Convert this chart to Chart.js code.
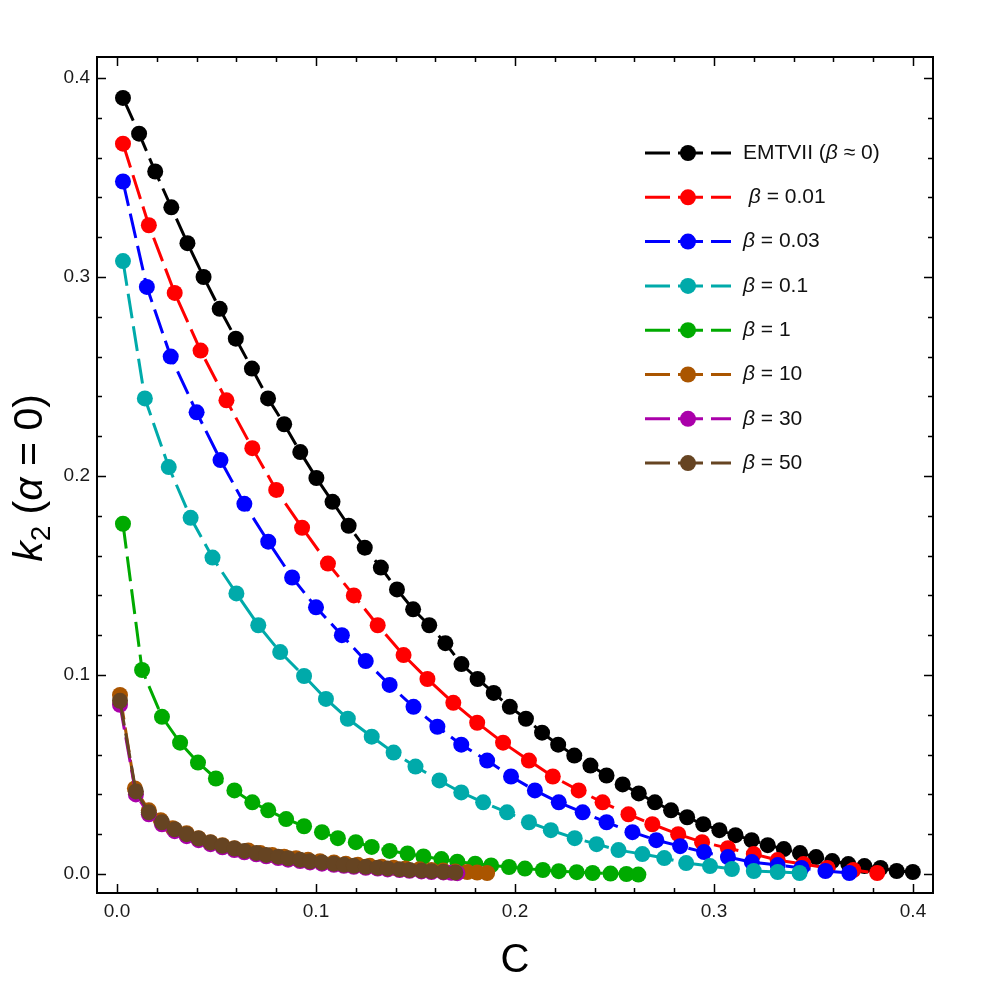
<!DOCTYPE html>
<html lang="en">
  <head>
    <meta charset="UTF-8" />
    <script src="https://cdn.jsdelivr.net/npm/chart.js@4.4.0/dist/chart.umd.min.js"></script>
    <style>
      body { margin: 0; background: #fff; }
      #chart { display: block; }
    </style>
    <title>k2 vs C</title>
  </head>
  <body>
    <canvas id="chart" width="997" height="985"></canvas>
    <script>
      // values: compactness C and Love number k2 per beta
      const cEMT = [0.003,0.0111,0.0192,0.0273,0.0354,0.0435,0.0516,0.0597,0.0678,0.0759,0.084,0.0921,0.1002,0.1083,0.1164,0.1245,0.1326,0.1407,0.1488,0.1569,0.165,0.1731,0.1812,0.1893,0.1974,0.2055,0.2136,0.2217,0.2298,0.2379,0.246,0.2541,0.2622,0.2703,0.2784,0.2865,0.2946,0.3027,0.3108,0.3189,0.327,0.3351,0.3432,0.3513,0.3594,0.3675,0.3756,0.3837,0.3918,0.3999];
      const kEMT = [0.390,0.372,0.353,0.335,0.317,0.300,0.284,0.269,0.254,0.239,0.226,0.212,0.199,0.187,0.175,0.164,0.154,0.143,0.133,0.125,0.116,0.1055,0.098,0.091,0.084,0.078,0.071,0.065,0.0595,0.0545,0.0495,0.045,0.0405,0.036,0.032,0.0285,0.025,0.022,0.0195,0.017,0.0145,0.0125,0.0105,0.0085,0.0065,0.005,0.004,0.003,0.0015,0.001];

      const cB001 = [0.003,0.016,0.029,0.042,0.055,0.068,0.080,0.093,0.106,0.119,0.131,0.144,0.156,0.169,0.181,0.194,0.207,0.219,0.232,0.244,0.257,0.269,0.282,0.294,0.307,0.320,0.332,0.345,0.357,0.370,0.382];
      const kB001 = [0.367,0.326,0.292,0.263,0.238,0.214,0.193,0.174,0.156,0.140,0.125,0.110,0.098,0.086,0.076,0.066,0.057,0.049,0.042,0.036,0.030,0.025,0.020,0.016,0.013,0.010,0.007,0.005,0.003,0.002,0.0005];

      const cB003 = [0.003,0.015,0.027,0.040,0.052,0.064,0.076,0.088,0.100,0.113,0.125,0.137,0.149,0.161,0.173,0.186,0.198,0.210,0.222,0.234,0.246,0.259,0.271,0.283,0.295,0.307,0.319,0.332,0.344,0.356,0.368];
      const kB003 = [0.348,0.295,0.260,0.232,0.208,0.186,0.167,0.149,0.134,0.120,0.107,0.095,0.084,0.074,0.065,0.057,0.049,0.042,0.036,0.031,0.026,0.021,0.017,0.014,0.011,0.0085,0.006,0.0045,0.003,0.0015,0.0005];

      const cB01 = [0.003,0.014,0.026,0.037,0.048,0.060,0.071,0.082,0.094,0.105,0.116,0.128,0.139,0.150,0.162,0.173,0.184,0.196,0.207,0.218,0.230,0.241,0.252,0.264,0.275,0.286,0.298,0.309,0.320,0.332,0.343];
      const kB01 = [0.308,0.239,0.2045,0.179,0.159,0.141,0.125,0.1115,0.0995,0.088,0.078,0.069,0.061,0.054,0.047,0.041,0.036,0.031,0.026,0.022,0.018,0.015,0.012,0.010,0.008,0.0055,0.004,0.0025,0.0015,0.001,0.0005];

      const cB1 = [0.003,0.0126,0.0226,0.0317,0.0407,0.0497,0.059,0.068,0.076,0.085,0.094,0.103,0.111,0.120,0.128,0.137,0.146,0.154,0.163,0.171,0.180,0.188,0.197,0.205,0.214,0.222,0.231,0.239,0.248,0.256,0.262];
      const kB1 = [0.176,0.1025,0.079,0.066,0.056,0.048,0.042,0.036,0.032,0.0276,0.024,0.021,0.018,0.016,0.0136,0.0116,0.0103,0.0088,0.0075,0.0062,0.0052,0.0043,0.0035,0.0027,0.002,0.0014,0.0009,0.0005,0.0002,0.0,-0.0003];

      const cB10 = [0.0015,0.009,0.016,0.022,0.028,0.035,0.041,0.047,0.053,0.059,0.066,0.072,0.078,0.084,0.090,0.096,0.102,0.109,0.115,0.121,0.127,0.133,0.139,0.145,0.152,0.158,0.164,0.170,0.176,0.181,0.186];
      const kB10 = [0.090,0.043,0.032,0.027,0.023,0.0205,0.018,0.016,0.0145,0.013,0.0118,0.0106,0.0096,0.0087,0.0079,0.0071,0.0064,0.0058,0.0052,0.0046,0.0041,0.0036,0.0032,0.0028,0.0024,0.002,0.0017,0.0013,0.001,0.0007,0.0005];

      const cB30 = [0.0015,0.0095,0.016,0.0226,0.029,0.035,0.041,0.047,0.053,0.059,0.064,0.070,0.075,0.081,0.086,0.092,0.097,0.103,0.109,0.114,0.119,0.125,0.131,0.136,0.142,0.147,0.153,0.158,0.164,0.168,0.171];
      const kB30 = [0.085,0.040,0.030,0.025,0.0215,0.019,0.017,0.015,0.0134,0.012,0.0109,0.0099,0.0089,0.008,0.0072,0.0065,0.0058,0.0052,0.0046,0.0041,0.0036,0.0031,0.0027,0.0023,0.002,0.0016,0.0013,0.001,0.0008,0.0006,0.0004];

      const cB50 = [0.0015,0.0095,0.016,0.0226,0.029,0.035,0.041,0.047,0.053,0.059,0.064,0.070,0.075,0.081,0.086,0.092,0.097,0.103,0.109,0.114,0.119,0.125,0.131,0.136,0.142,0.147,0.153,0.158,0.164,0.170];
      const kB50 = [0.087,0.0415,0.031,0.026,0.0225,0.020,0.0178,0.0158,0.0142,0.0128,0.0116,0.0106,0.0096,0.0087,0.0079,0.0071,0.0064,0.0058,0.0052,0.0046,0.0041,0.0036,0.0032,0.0028,0.0024,0.002,0.0017,0.0014,0.0011,0.0008];

      const seriesLabels = ["EMTVII (β ≈ 0)", " β = 0.01", "β = 0.03", "β = 0.1", "β = 1", "β = 10", "β = 30", "β = 50"];
      const seriesColors = ["#000000", "#ff0000", "#0000ff", "#00aaaa", "#00aa00", "#aa5500", "#aa00aa", "#664422"];
      const xTicks = [0.0, 0.1, 0.2, 0.3, 0.4];
      const yTicks = [0.0, 0.1, 0.2, 0.3, 0.4];

      const cols = [cEMT, cB001, cB003, cB01, cB1, cB10, cB30, cB50];
      const ks = [kEMT, kB001, kB003, kB01, kB1, kB10, kB30, kB50];

      const FONT = "'Liberation Sans', Arial, sans-serif";
      const isMajor = (v, list) => list.some((t) => Math.abs(t - v) < 1e-6);

      const datasets = seriesLabels.map((label, i) => ({
        label,
        data: cols[i].map((c, j) => ({ x: c, y: ks[i][j] })),
        borderColor: seriesColors[i],
        backgroundColor: seriesColors[i],
        pointBackgroundColor: seriesColors[i],
        pointBorderWidth: 0,
        pointRadius: 8,
        borderWidth: 3,
        borderDash: [25, 8],
        showLine: true,
        order: seriesLabels.length - i,
      }));

      // frame, inward ticks, y title and legend
      const decor = {
        id: "decor",
        afterDraw(chart) {
          const ctx = chart.ctx;
          const a = chart.chartArea;
          const xs = chart.scales.x;
          const ys = chart.scales.y;
          ctx.save();
          ctx.strokeStyle = "#000";
          ctx.lineWidth = 2;
          ctx.strokeRect(a.left, a.top, a.right - a.left, a.bottom - a.top);
          ctx.lineWidth = 1.5;
          ctx.beginPath();
          xs.ticks.forEach((t) => {
            const p = Math.round(xs.getPixelForValue(t.value)) + 0.5;
            const len = isMajor(t.value, xTicks) ? 9 : 5;
            ctx.moveTo(p, a.bottom); ctx.lineTo(p, a.bottom - len);
            ctx.moveTo(p, a.top); ctx.lineTo(p, a.top + len);
          });
          ys.ticks.forEach((t) => {
            const p = Math.round(ys.getPixelForValue(t.value)) + 0.5;
            const len = isMajor(t.value, yTicks) ? 9 : 5;
            ctx.moveTo(a.left, p); ctx.lineTo(a.left + len, p);
            ctx.moveTo(a.right, p); ctx.lineTo(a.right - len, p);
          });
          ctx.stroke();

          // y axis title: k2 (alpha = 0)
          ctx.fillStyle = "#000";
          ctx.translate(29, 478);
          ctx.rotate(-Math.PI / 2);
          const parts = [
            { t: "k", f: "italic 41px " + FONT, dy: 0 },
            { t: "2", f: "28px " + FONT, dy: 8 },
            { t: " (", f: "41px " + FONT, dy: 0 },
            { t: "α", f: "italic 41px " + FONT, dy: 0 },
            { t: " = 0)", f: "41px " + FONT, dy: 0 },
          ];
          let w = 0;
          parts.forEach((p) => { ctx.font = p.f; w += ctx.measureText(p.t).width; });
          let x = -w / 2;
          ctx.textBaseline = "alphabetic";
          parts.forEach((p) => {
            ctx.font = p.f;
            ctx.fillText(p.t, x, 13 + p.dy);
            x += ctx.measureText(p.t).width;
          });
          ctx.setTransform(1, 0, 0, 1, 0, 0);

          // legend
          ctx.textBaseline = "middle";
          seriesLabels.forEach((label, i) => {
            const y = 153 + i * 44.3;
            ctx.strokeStyle = seriesColors[i];
            ctx.lineWidth = 3;
            ctx.setLineDash([25, 8]);
            ctx.beginPath();
            ctx.moveTo(645, y); ctx.lineTo(731, y);
            ctx.stroke();
            ctx.setLineDash([]);
            ctx.fillStyle = seriesColors[i];
            ctx.beginPath();
            ctx.arc(688, y, 8, 0, Math.PI * 2);
            ctx.fill();
            ctx.fillStyle = "#111";
            let tx = 743;
            for (const ch of label) {
              ctx.font = (ch === "β" ? "italic " : "") + "21px " + FONT;
              ctx.fillText(ch, tx, y);
              tx += ctx.measureText(ch).width;
            }
          });
          ctx.restore();
        },
      };

      const tickLabel = (list) => (v) => (isMajor(v, list) ? v.toFixed(1) : "");

      const config = {
        type: "scatter",
        data: { datasets },
        options: {
          responsive: false,
          animation: false,
          devicePixelRatio: 1,
          layout: { padding: { top: 57, right: 64, bottom: 0, left: 0 } },
          elements: { line: { tension: 0 } },
          plugins: { legend: { display: false }, tooltip: { enabled: false } },
          scales: {
            x: {
              type: "linear",
              min: -0.01005,
              max: 0.41005,
              grid: { display: false, drawTicks: false },
              border: { display: false },
              ticks: {
                stepSize: 0.02,
                includeBounds: false,
                autoSkip: false,
                maxRotation: 0,
                padding: 7,
                color: "#1a1a1a",
                font: { family: FONT, size: 19 },
                callback: tickLabel(xTicks),
              },
              title: {
                display: true,
                text: "C",
                color: "#000",
                font: { family: FONT, size: 40 },
                padding: { top: 0, bottom: 0 },
              },
              afterFit: (s) => { s.height = 92; },
            },
            y: {
              type: "linear",
              min: -0.00955,
              max: 0.41055,
              grid: { display: false, drawTicks: false },
              border: { display: false },
              ticks: {
                stepSize: 0.02,
                includeBounds: false,
                autoSkip: false,
                padding: 7,
                color: "#1a1a1a",
                font: { family: FONT, size: 19 },
                callback: tickLabel(yTicks),
              },
              afterFit: (s) => { s.width = 97; },
            },
          },
        },
        plugins: [decor],
      };

      const chart = new Chart(document.getElementById("chart"), config);
    </script>
  </body>
</html>
